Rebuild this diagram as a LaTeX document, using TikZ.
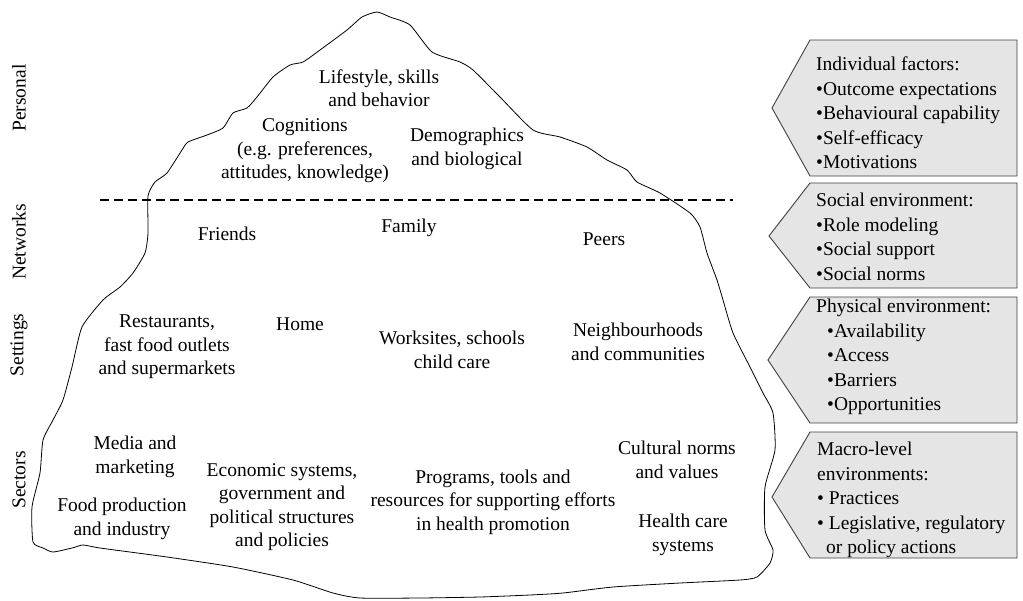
\documentclass[tikz,border=0pt]{standalone}
\usepackage{fontspec}
\setmainfont{Liberation Serif}

\tikzset{
  level/.style={rotate=90, inner sep=0pt, font=\fontsize{19.5}{23}\selectfont},
  item/.style={align=center, inner sep=0pt, font=\fontsize{19.5}{23.5}\selectfont},
  factor/.style={draw=black!75, fill=black!10, line width=0.9pt},
  factortext/.style={align=left, anchor=west, inner sep=0pt, font=\fontsize{19.5}{24.5}\selectfont},
  waterline/.style={line width=1.6pt, dash pattern=on 9pt off 5pt},
}

\begin{document}
\begin{tikzpicture}[x=1pt,y=-1pt]
   \useasboundingbox (0,0) rectangle (1023,600);

   % iceberg
   \draw[line width=0.8pt] plot[smooth cycle, tension=0.35] coordinates {
     (377,12) (390,17) (410,25) (432,52) (460,62) (473,70) (500,97)
     (533,130) (560,137) (587,147) (607,160) (627,170) (637,182) (660,193)
     (690,213) (700,227) (707,253) (717,280) (723,300) (733,333) (750,367)
     (763,393) (773,413) (775,450) (765,487) (765,530) (773,550) (770,563)
     (757,577) (740,580) (680,583) (613,587) (563,593) (530,595) (480,597)
     (420,598) (360,598) (333,593) (293,580) (233,567) (167,557) (100,548)
     (83,545) (72,548) (53,552) (43,548) (33,542) (32,507) (40,473)
     (43,440) (53,420) (63,400) (72,367) (82,327) (103,300) (120,287)
     (133,273) (145,253) (148,233) (148,196) (155,182) (167,173) (182,150)
     (188,142) (207,135) (223,128) (233,113) (247,108) (257,97) (273,77)
     (290,65) (303,62) (320,50) (347,30) (362,17)};

   \coordinate (wl) at (100,200);
   \coordinate (wr) at (733,200);
   \draw[waterline] (wl) -- (wr);

   % levels
   \node[level] (personal) at (19,98)  {Personal};
   \node[level] (networks) at (19,242) {Networks};
   \node[level] (settings) at (19,345) {Settings};
   \node[level] (sectors)  at (19,480) {Sectors};

   % personal
   \node[item] (lifestyle) at (379,88)  {Lifestyle, skills\\and behavior};
   \node[item] (cognition) at (305,151) {Cognitions\\(e.g. preferences,\\attitudes, knowledge)};
   \node[item] (demograph) at (467,149) {Demographics\\and biological};

   % networks
   \node[item] (friends) at (227,234) {Friends};
   \node[item] (family)  at (409,228) {Family};
   \node[item] (peers)   at (604,239) {Peers};

   % settings
   \node[item] (restaurant) at (167,347) {Restaurants,\\fast food outlets\\and supermarkets};
   \node[item] (home)       at (300,324) {Home};
   \node[item] (worksite)   at (452,350) {Worksites, schools\\child care};
   \node[item] (neighbour)  at (638,342) {Neighbourhoods\\and communities};

   % sectors
   \node[item] (media)    at (135,457) {Media and\\marketing};
   \node[item] (food)     at (122,519) {Food production\\and industry};
   \node[item] (economic) at (282,507) {Economic systems,\\government and\\political structures\\and policies};
   \node[item] (programs) at (493,502) {Programs, tools and\\resources for supporting efforts\\in health promotion};
   \node[item] (cultural) at (677,460) {Cultural norms\\and values};
   \node[item] (health)   at (683,535) {Health care\\systems};

   % factors
   \draw[factor] (772,108) -- (810,40) -- (1017,40) -- (1017,176) -- (810,176) -- cycle;
   \node[factortext] (individual) at (816,113)
     {Individual factors:\\\textbullet Outcome expectations\\\textbullet Behavioural capability\\\textbullet Self-efficacy\\\textbullet Motivations};

   \draw[factor] (769,236) -- (810,183) -- (1017,183) -- (1017,288) -- (810,288) -- cycle;
   \node[factortext] (social) at (816,237)
     {Social environment:\\\textbullet Role modeling\\\textbullet Social support\\\textbullet Social norms};

   \draw[factor] (768,360) -- (810,297) -- (1017,297) -- (1017,423) -- (810,423) -- cycle;
   \node[factortext] (physical) at (816,357)
     {Physical environment:\\\hspace*{11pt}\textbullet Availability\\\hspace*{11pt}\textbullet Access\\\hspace*{11pt}\textbullet Barriers\\\hspace*{11pt}\textbullet Opportunities};

   \draw[factor] (772,497) -- (810,432) -- (1017,432) -- (1017,558) -- (810,558) -- cycle;
   \node[factortext] (macro) at (817,500)
     {Macro-level\\environments:\\\textbullet{} Practices\\\textbullet{} Legislative, regulatory\\\hspace*{9pt}or policy actions};
\end{tikzpicture}
\end{document}
